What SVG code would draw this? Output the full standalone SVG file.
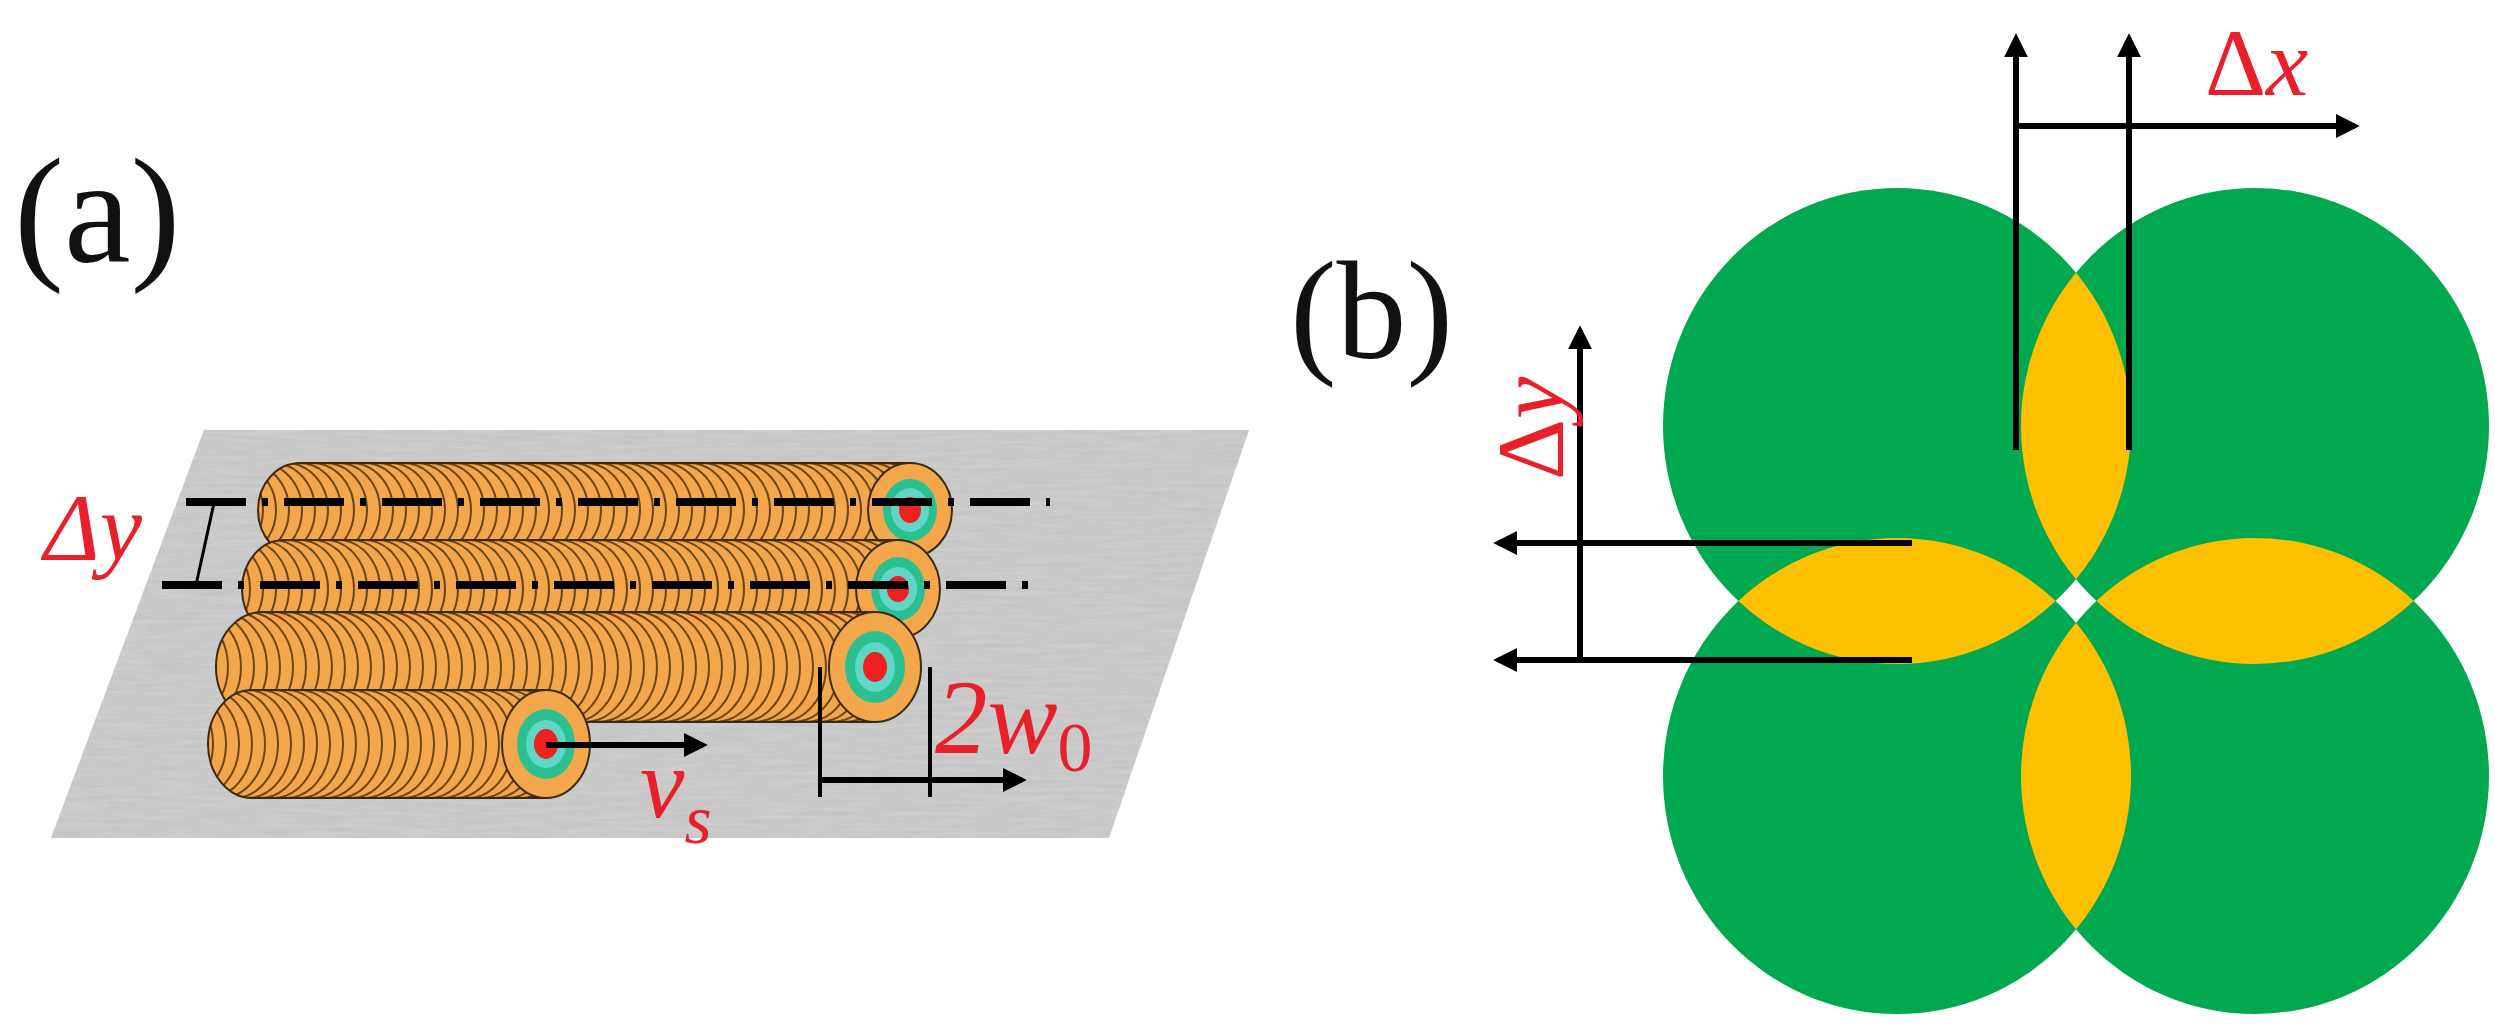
<svg xmlns="http://www.w3.org/2000/svg" width="2495" height="1026" viewBox="0 0 2495 1026">
<style>
.lbl{fill:#111}
.red{fill:#e8202a;font-style:italic}
.ln{stroke:#000;stroke-width:6;fill:none}
.dd{stroke:#000;stroke-width:8;stroke-dasharray:60 16 6 16;fill:none}
</style>
<defs>
<marker id="ah" viewBox="0 0 10 10" refX="8" refY="5" markerWidth="4" markerHeight="4" orient="auto"><path d="M0,0 L10,5 L0,10 z" fill="#000"/></marker>
<filter id="noise"><feTurbulence type="fractalNoise" baseFrequency="0.02 0.25" numOctaves="3" seed="4"/><feColorMatrix values="0 0 0 0 0.5 0 0 0 0 0.5 0 0 0 0 0.5 0 0 0 0.8 0"/><feComposite in2="SourceGraphic" operator="in"/></filter>
<pattern id="p1" patternUnits="userSpaceOnUse" x="0" y="463" width="13" height="94"><rect width="13" height="94" fill="#f4a64a"/><path d="M-39,0 A42,47 0 0 1 -39,94 M-26,0 A42,47 0 0 1 -26,94 M-13,0 A42,47 0 0 1 -13,94 M0,0 A42,47 0 0 1 0,94" fill="none" stroke="#6a4412" stroke-width="2"/></pattern>
<pattern id="p2" patternUnits="userSpaceOnUse" x="0" y="540" width="13" height="98"><rect width="13" height="98" fill="#f4a64a"/><path d="M-39,0 A42,49 0 0 1 -39,98 M-26,0 A42,49 0 0 1 -26,98 M-13,0 A42,49 0 0 1 -13,98 M0,0 A42,49 0 0 1 0,98" fill="none" stroke="#6a4412" stroke-width="2"/></pattern>
<pattern id="p3" patternUnits="userSpaceOnUse" x="0" y="612" width="13" height="110"><rect width="13" height="110" fill="#f4a64a"/><path d="M-39,0 A46,55 0 0 1 -39,110 M-26,0 A46,55 0 0 1 -26,110 M-13,0 A46,55 0 0 1 -13,110 M0,0 A46,55 0 0 1 0,110" fill="none" stroke="#6a4412" stroke-width="2"/></pattern>
<pattern id="p4" patternUnits="userSpaceOnUse" x="0" y="690" width="13" height="108"><rect width="13" height="108" fill="#f4a64a"/><path d="M-39,0 A44,54 0 0 1 -39,108 M-26,0 A44,54 0 0 1 -26,108 M-13,0 A44,54 0 0 1 -13,108 M0,0 A44,54 0 0 1 0,108" fill="none" stroke="#6a4412" stroke-width="2"/></pattern>
<clipPath id="cTL"><ellipse cx="1897" cy="426" rx="234" ry="238"/></clipPath>
<clipPath id="cBR"><ellipse cx="2255" cy="776" rx="234" ry="238"/></clipPath>
</defs>

<g id="panel-a">
<polygon points="204,430 1249,430 1109,838 51,838" fill="#d2d2d2"/>
<polygon points="204,430 1249,430 1109,838 51,838" fill="#fff" filter="url(#noise)"/>
<g id="row1">
<path d="M300,463 H910 V557 H300 A42,47 0 0 1 300,463 Z" fill="url(#p1)" stroke="#3a2a10" stroke-width="2"/>
<ellipse cx="910" cy="510" rx="42" ry="47" fill="#f4a64a" stroke="#3a2a10" stroke-width="2"/>
<ellipse cx="910" cy="510" rx="27" ry="31" fill="#2bc090"/><ellipse cx="910" cy="510" rx="19" ry="22" fill="#5fd6c8"/><ellipse cx="910" cy="510" rx="11" ry="13" fill="#f02020"/>
</g>
<g id="row2">
<path d="M284,540 H898 V638 H284 A42,49 0 0 1 284,540 Z" fill="url(#p2)" stroke="#3a2a10" stroke-width="2"/>
<ellipse cx="898" cy="589" rx="42" ry="49" fill="#f4a64a" stroke="#3a2a10" stroke-width="2"/>
<ellipse cx="898" cy="589" rx="27" ry="32" fill="#2bc090"/><ellipse cx="898" cy="589" rx="19" ry="22" fill="#5fd6c8"/><ellipse cx="898" cy="589" rx="11" ry="13" fill="#f02020"/>
</g>
<g id="row3">
<path d="M262,612 H875 V722 H262 A46,55 0 0 1 262,612 Z" fill="url(#p3)" stroke="#3a2a10" stroke-width="2"/>
<ellipse cx="875" cy="667" rx="46" ry="55" fill="#f4a64a" stroke="#3a2a10" stroke-width="2"/>
<ellipse cx="875" cy="667" rx="30" ry="36" fill="#2bc090"/><ellipse cx="875" cy="667" rx="20" ry="25" fill="#5fd6c8"/><ellipse cx="875" cy="667" rx="12" ry="15" fill="#f02020"/>
</g>
<g id="row4">
<path d="M252,690 H546 V798 H252 A44,54 0 0 1 252,690 Z" fill="url(#p4)" stroke="#3a2a10" stroke-width="2"/>
<ellipse cx="546" cy="744" rx="44" ry="54" fill="#f4a64a" stroke="#3a2a10" stroke-width="2"/>
<ellipse cx="546" cy="744" rx="29" ry="35" fill="#2bc090"/><ellipse cx="546" cy="744" rx="20" ry="24" fill="#5fd6c8"/><ellipse cx="546" cy="744" rx="12" ry="15" fill="#f02020"/>
</g>
</g>

<g id="connectors">
<line class="dd" x1="186" y1="502" x2="1050" y2="502"/>
<line class="dd" x1="162" y1="585" x2="1035" y2="585"/>
<path d="M200,503 H224 M214,503 L196,585 M186,585 H210" stroke="#000" stroke-width="3" fill="none"/>
<line class="ln" x1="546" y1="745" x2="703" y2="745" marker-end="url(#ah)"/>
<line x1="820" y1="667" x2="820" y2="797" stroke="#000" stroke-width="4"/>
<line x1="930" y1="667" x2="930" y2="797" stroke="#000" stroke-width="4"/>
<line class="ln" x1="820" y1="780" x2="1022" y2="780" marker-end="url(#ah)"/>
</g>

<g id="panel-b">
<ellipse cx="1897" cy="426" rx="234" ry="238" fill="#00a84f"/>
<ellipse cx="2255" cy="426" rx="234" ry="238" fill="#00a84f"/>
<ellipse cx="1897" cy="776" rx="234" ry="238" fill="#00a84f"/>
<ellipse cx="2255" cy="776" rx="234" ry="238" fill="#00a84f"/>
<g clip-path="url(#cTL)">
<ellipse cx="2255" cy="426" rx="234" ry="238" fill="#ffc000"/>
<ellipse cx="1897" cy="776" rx="234" ry="238" fill="#ffc000"/>
</g>
<g clip-path="url(#cBR)">
<ellipse cx="2255" cy="426" rx="234" ry="238" fill="#ffc000"/>
<ellipse cx="1897" cy="776" rx="234" ry="238" fill="#ffc000"/>
</g>
<circle cx="2076" cy="601" r="6" fill="#fff"/>
</g>

<g id="connectors-b">
<line class="ln" x1="2016" y1="450" x2="2016" y2="38" marker-end="url(#ah)"/>
<line class="ln" x1="2129" y1="450" x2="2129" y2="38" marker-end="url(#ah)"/>
<line class="ln" x1="2016" y1="126" x2="2355" y2="126" marker-end="url(#ah)"/>
<line class="ln" x1="1580" y1="662" x2="1580" y2="330" marker-end="url(#ah)"/>
<line class="ln" x1="1912" y1="543" x2="1498" y2="543" marker-end="url(#ah)"/>
<line class="ln" x1="1912" y1="660" x2="1498" y2="660" marker-end="url(#ah)"/>
</g>

<g id="labels" font-family="'Liberation Serif','Times New Roman','DejaVu Serif',serif">
<text class="lbl" x="14" y="262" font-size="150">(a)</text>
<text class="lbl" x="1290" y="358" font-size="140">(b)</text>
<text class="red" x="44" y="560" font-size="95">Δy</text>
<text class="red" x="640" y="817" font-size="100">v<tspan font-size="70" dy="26">s</tspan></text>
<text class="red" x="935" y="753" font-size="105" font-style="normal">2<tspan font-style="italic">w</tspan><tspan font-size="70" dy="18" font-style="normal">0</tspan></text>
<text class="red" x="2205" y="95" font-size="95"><tspan font-style="normal">Δ</tspan>x</text>
<text class="red" transform="translate(1563,480) rotate(-90)" font-size="95"><tspan font-style="normal">Δ</tspan>y</text>
</g>
</svg>
